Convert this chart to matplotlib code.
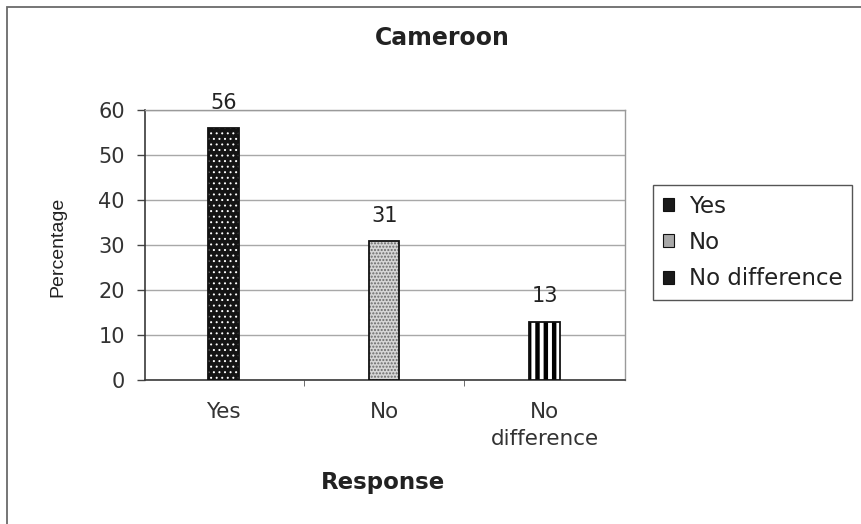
import matplotlib
matplotlib.use('Agg')
import matplotlib.pyplot as plt
from matplotlib.patches import Rectangle

categories = ['Yes', 'No', 'No\ndifference']
legend_labels = ['Yes', 'No', 'No difference']
values = [56, 31, 13]
yticks = [0, 10, 20, 30, 40, 50, 60]

plt.rcParams['font.family'] = ['DejaVu Sans']
plt.rcParams['text.color'] = '#222222'

W, H = 861, 524
fig = plt.figure(figsize=(W / 100, H / 100), dpi=100)
fig.patch.set_facecolor('white')

def px(x0, y0, x1, y1):
    # pixel box (top-left origin) -> axes rect in figure fraction
    return [x0 / W, 1 - y1 / H, (x1 - x0) / W, (y1 - y0) / H]

ax = fig.add_axes(px(145, 110, 625, 380))

# outer chart frame, runs off the right and bottom edge
fig.patches.append(Rectangle((7 / W, -0.2), 2.0, 1 - 7 / H + 0.2,
                             transform=fig.transFigure, fill=False,
                             edgecolor='#6a6a6a', lw=1.3, zorder=0))

x = list(range(len(values)))
bw = 0.19
styles = [
    dict(fc='#141414', hc='white', hatch='...', hlw=0.7, key='#1a1a1a'),
    dict(fc='#d6d6d6', hc='#6a6a6a', hatch='.....', hlw=1.0, key='#a8a8a8'),
    dict(fc='white', hc='black', hatch='||', hlw=3.2, key='#1a1a1a'),
]

for xi, v, st in zip(x, values, styles):
    with plt.rc_context({'hatch.linewidth': st['hlw']}):
        b = ax.bar(xi, v, width=bw, color=st['fc'], edgecolor=st['hc'],
                   hatch=st['hatch'], lw=0, zorder=3)[0]
        if hasattr(b, 'set_hatch_linewidth'):
            b.set_hatch_linewidth(st['hlw'])
    ax.bar(xi, v, width=bw, fill=False, edgecolor='#111111', lw=1.3, zorder=4)
    ax.annotate(str(v), (xi, v), xytext=(0, 18), textcoords='offset points',
                ha='center', va='center', fontsize=15, color='#222222')

ax.set_xlim(-0.49, 2.5)
ax.set_ylim(0, 60)
ax.set_yticks(yticks)
ax.yaxis.grid(True, color='#a8a8a8', lw=1.0, zorder=0)
ax.set_axisbelow(True)

ax.set_xticks(x)
ax.set_xticklabels(categories, fontsize=15.5, linespacing=1.4, color='#333333')
ax.set_xticks([0.5, 1.5], minor=True)
ax.tick_params(axis='x', which='major', length=0, pad=16)
ax.tick_params(axis='x', which='minor', length=4, color='#555555')
ax.tick_params(axis='y', length=5.5, width=1, color='#444444', pad=9,
               labelsize=15, labelcolor='#333333')

for s in ['left', 'bottom']:
    ax.spines[s].set_color('#3a3a3a')
    ax.spines[s].set_linewidth(1.2)
for s in ['top', 'right']:
    ax.spines[s].set_color('#9a9a9a')
    ax.spines[s].set_linewidth(1.0)

fig.text(442 / W, 1 - 38 / H, 'Cameroon', ha='center', va='center',
         fontsize=17, fontweight='bold', color='#222222')
fig.text(383 / W, 1 - 483 / H, 'Response', ha='center', va='center',
         fontsize=16.5, fontweight='bold', color='#222222')
fig.text(58 / W, 1 - 247 / H, 'Percentage', ha='center', va='center',
         rotation=90, fontsize=14, family='Liberation Sans', color='#222222')

# small solid keys for the legend
keys = [Rectangle((0, 0), 1, 1, facecolor=st['key'], edgecolor='#111111', lw=0.8)
        for st in styles]
leg = fig.legend(keys, legend_labels, loc='upper left',
                 bbox_to_anchor=(653 / W, 1 - 185 / H),
                 bbox_transform=fig.transFigure, fontsize=16.5,
                 handlelength=0.5, handleheight=0.5, handletextpad=0.65,
                 labelspacing=0.58, borderpad=0.42, borderaxespad=0,
                 fancybox=False, framealpha=1, edgecolor='#555555')
leg.get_frame().set_linewidth(1.0)
for t in leg.get_texts():
    t.set_color('#222222')

fig.savefig('out.png', dpi=100, facecolor='white')
